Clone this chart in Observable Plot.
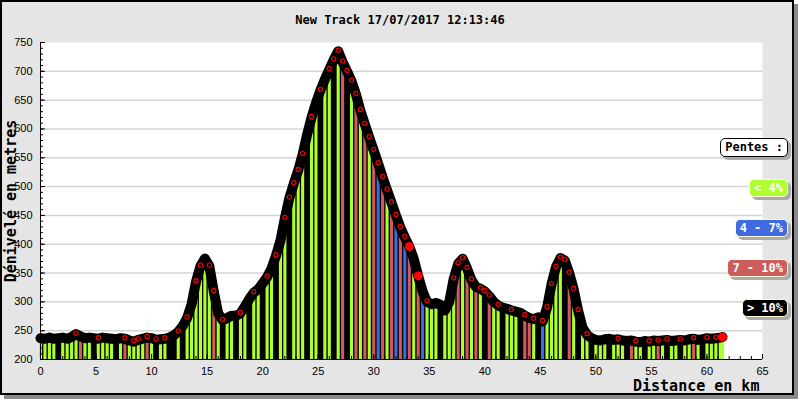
<!DOCTYPE html>
<html><head><meta charset="utf-8">
<script src="https://cdn.jsdelivr.net/npm/d3@7"></script>
<script src="https://cdn.jsdelivr.net/npm/@observablehq/plot@0.6"></script>
<style>
body{margin:0;background:#fff;}
#wrap{position:relative;width:800px;height:400px;overflow:hidden;}
#frame{position:absolute;left:0;top:0;width:790px;height:391px;background:#e5e5e5;border:2px solid #000;box-shadow:4px 4px 0 #8a8a8a;}
#chart{position:absolute;left:0;top:0;}
.t{position:absolute;font-family:"DejaVu Sans Mono",monospace;font-weight:bold;color:#000;white-space:nowrap;}
.lg{position:absolute;right:12px;height:16px;line-height:16px;padding:0 4px;border:1px solid #fffbd6;border-radius:5px;font-family:"DejaVu Sans Mono",monospace;font-weight:bold;font-size:12px;color:#fff;box-shadow:3px 3px 0 #aaa;white-space:pre;}
</style></head>
<body>
<div id="wrap">
  <div id="frame"></div>
  <div id="chart"></div>
  <div class="t" id="title" style="left:0;width:800px;text-align:center;top:13px;font-size:12px;"></div>
  <div class="t" id="ylab" style="left:11px;top:201px;font-size:15px;line-height:18px;transform:translate(-50%,-50%) rotate(-90deg);"></div>
  <div class="t" id="xlab" style="left:633px;top:377px;font-size:15px;"></div>
  <div id="legend"></div>
</div>
<script>
const titleText = "New Track 17/07/2017 12:13:46";
const yLabel = "Dénivelé en metres";
const xLabel = "Distance en km";
const legendTitle = "Pentes :";
const legendLabels = ["< 4%", "4 - 7%", "7 - 10%", "> 10%"];
const legendColors = ["#adff2f", "#4169e1", "#cd5c5c", "#000000"];

const xTicks = [0,5,10,15,20,25,30,35,40,45,50,55,60,65];
const yTicks = [200,250,300,350,400,450,500,550,600,650,700,750];

const dist = [
0,0.4,0.8,1.2,1.6,2,2.4,2.8,3.2,3.6,
4,4.4,4.8,5.2,5.6,6,6.4,6.8,7.2,7.6,
8,8.4,8.8,9.2,9.6,10,10.4,10.8,11.2,11.6,
12,12.4,12.8,13.2,13.6,14,14.4,14.8,15.2,15.6,
16,16.4,16.8,17.2,17.6,18,18.4,18.8,19.2,19.6,
20,20.4,20.8,21.2,21.6,22,22.4,22.8,23.2,23.6,
24,24.4,24.8,25.2,25.6,26,26.4,26.8,27.2,27.6,
28,28.4,28.8,29.2,29.6,30,30.4,30.8,31.2,31.6,
32,32.4,32.8,33.2,33.6,34,34.4,34.8,35.2,35.6,
36,36.4,36.8,37.2,37.6,38,38.4,38.8,39.2,39.6,
40,40.4,40.8,41.2,41.6,42,42.4,42.8,43.2,43.6,
44,44.4,44.8,45.2,45.6,46,46.4,46.8,47.2,47.6,
48,48.4,48.8,49.2,49.6,50,50.4,50.8,51.2,51.6,
52,52.4,52.8,53.2,53.6,54,54.4,54.8,55.2,55.6,
56,56.4,56.8,57.2,57.6,58,58.4,58.8,59.2,59.6,
60,60.4,60.8,61.2,61.4];

const elev = [
237,236,238,236,237,238,236,239,244,240,
237,238,237,236,238,237,236,235,237,236,
233,231,234,236,238,237,234,235,236,238,
242,248,258,272,296,335,362,375,362,318,
280,268,272,276,276,280,292,305,316,322,
332,343,358,380,406,445,480,505,528,556,
590,620,645,667,686,703,720,735,716,700,
683,660,632,608,585,563,540,516,494,472,
450,429,412,396,375,345,318,300,296,298,
295,285,300,340,366,375,358,338,326,323,
318,310,300,294,290,288,285,283,281,276,
272,270,273,266,290,330,360,376,372,350,
322,285,255,243,237,234,233,235,236,234,
235,233,232,233,231,230,232,231,233,232,
233,234,232,233,234,233,235,236,234,235,
237,236,237,238,239];

// slope class: 0 "< 4%", 1 "4 - 7%", 2 "7 - 10%", 3 "> 10%"
const slopeClass = [
0,0,0,0,3,0,0,0,0,2,
0,0,3,0,0,0,0,3,0,2,
0,0,0,0,2,0,3,0,0,3,
3,0,3,0,0,0,0,0,0,2,
0,3,0,0,3,0,0,3,0,0,
3,0,0,3,0,0,3,0,0,0,
3,0,0,3,0,0,3,0,2,3,
0,2,0,2,0,2,1,2,0,2,
1,2,1,2,0,2,1,0,0,0,
3,0,0,0,2,0,2,0,2,0,
3,2,0,0,3,0,0,0,3,2,
2,0,3,1,0,0,0,0,3,2,
0,3,0,0,3,0,0,0,3,0,
0,0,3,2,0,0,3,0,0,2,
0,3,0,0,3,0,0,2,0,3,
0,0,0,0,0];

const ringIdx = [8,13,19,21,22,24,26,28,31,33,35,36,38,39,41,45,48,51,53,55,56,57,58,59,61,63,65,66,67,68,69,70,71,72,73,74,75,76,77,78,79,80,81,82,83,85,87,93,94,95,96,97,99,100,101,103,106,109,111,113,114,115,116,117,118,119,120,121,123,130,134,137,139,141,144,147,150,152];
const filledIdx = [83,85,154];

const data = dist.map((d, i) => ({d, e: elev[i], c: slopeClass[i]}));
const rings = ringIdx.map(i => data[i]);
const filled = filledIdx.map(i => data[i]);
const blank = () => "";

const chart = Plot.plot({
  width: 800, height: 400,
  marginLeft: 40, marginRight: 38, marginTop: 42, marginBottom: 41,
  x: {domain: [0, 65]},
  y: {domain: [200, 750]},
  color: {domain: [0,1,2,3], range: legendColors},
  style: {background: "transparent", fontFamily: "'Liberation Sans', Arial, sans-serif", fontSize: "11px", color: "#000"},
  marks: [
    Plot.frame({fill: "white", stroke: null}),
    Plot.ruleY(yTicks.filter(v => v > 200 && v < 750), {stroke: "#d4d4d4", strokeWidth: 1.5}),
    Plot.areaY(data, {x: "d", y1: 200, y2: "e", fill: "black"}),
    Plot.ruleX(data, {x: "d", y1: 200, y2: "e", stroke: "c", strokeWidth: 3.1}),
    Plot.line(data, {x: "d", y: "e", stroke: "black", strokeWidth: 10, strokeLinejoin: "round", strokeLinecap: "round"}),
    Plot.dot(rings, {x: "d", y: "e", r: 2.1, stroke: "red", strokeWidth: 1.1, dy: -1}),
    Plot.dot(filled, {x: "d", y: "e", r: 4.5, fill: "red"}),
    Plot.ruleX([0], {stroke: "black"}),
    Plot.ruleY([200], {stroke: "black"}),
    Plot.axisY({ticks: yTicks, tickSize: 0, tickPadding: 8, label: null}),
    Plot.axisY({ticks: d3.range(200, 751, 10), tickSize: -3, tickFormat: blank, label: null}),
    Plot.axisY({ticks: yTicks, tickSize: -5, tickFormat: blank, label: null}),
    Plot.axisX({ticks: xTicks, tickSize: 0, tickPadding: 8, label: null}),
    Plot.axisX({ticks: d3.range(0, 66, 1), tickSize: -3, tickFormat: blank, label: null}),
    Plot.axisX({ticks: xTicks, tickSize: -5, tickFormat: blank, label: null})
  ]
});
document.getElementById("chart").appendChild(chart);
document.getElementById("title").textContent = titleText;
document.getElementById("ylab").textContent = yLabel;
document.getElementById("xlab").textContent = xLabel;

const lg = document.getElementById("legend");
const head = document.createElement("div");
head.className = "lg";
head.textContent = legendTitle;
Object.assign(head.style, {top: "138px", height: "17px", lineHeight: "17px", background: "#fff", color: "#000", border: "1.5px solid #000", boxShadow: "3px 3px 0 #aaa"});
lg.appendChild(head);
const tops = [179, 219, 259, 299];
legendLabels.forEach((t, i) => {
  const el = document.createElement("div");
  el.className = "lg";
  el.textContent = t;
  el.style.top = tops[i] + "px";
  el.style.background = legendColors[i];
  lg.appendChild(el);
});
</script>
</body></html>
